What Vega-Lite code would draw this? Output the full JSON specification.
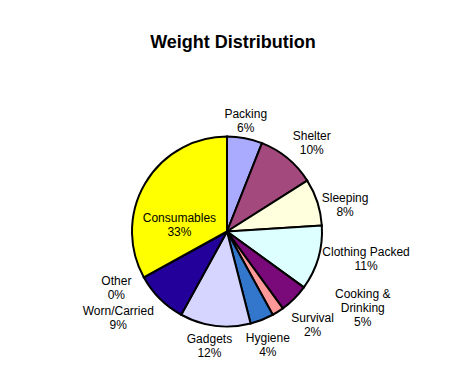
{
  "$schema": "https://vega.github.io/schema/vega-lite/v6.json",
  "autosize": "none",
  "width": 300,
  "height": 299,
  "padding": {"left": 77, "top": 82, "right": 83, "bottom": 0},
  "background": "white",
  "title": {"text": "Weight Distribution", "font": "Liberation Sans", "fontSize": 18, "fontWeight": "bold", "color": "black", "dx": 6, "offset": 30},
  "data": {"values": [
    {"ord": 1, "item": "Packing", "label": "Packing", "pct": 6},
    {"ord": 2, "item": "Shelter", "label": "Shelter", "pct": 10},
    {"ord": 3, "item": "Sleeping", "label": "Sleeping", "pct": 8},
    {"ord": 4, "item": "Clothing Packed", "label": "Clothing Packed", "pct": 11},
    {"ord": 5, "item": "Cooking & Drinking", "label": "Cooking &\nDrinking", "pct": 5},
    {"ord": 6, "item": "Survival", "label": "Survival", "pct": 2},
    {"ord": 7, "item": "Hygiene", "label": "Hygiene", "pct": 4},
    {"ord": 8, "item": "Gadgets", "label": "Gadgets", "pct": 12},
    {"ord": 9, "item": "Worn/Carried", "label": "Worn/Carried", "pct": 9},
    {"ord": 10, "item": "Other", "label": "Other", "pct": 0},
    {"ord": 11, "item": "Consumables", "label": "Consumables", "pct": 33}
  ]},
  "transform": [
    {"stack": "pct", "groupby": [], "sort": [{"field": "ord", "order": "ascending"}], "as": ["s0", "s1"]},
    {"calculate": "(datum.s0 + datum.s1) / 2", "as": "mid"},
    {"calculate": "datum.label + '\\n' + datum.pct + '%'", "as": "txt"}
  ],
  "encoding": {
    "theta": {"field": "mid", "type": "quantitative", "scale": {"domain": [0, 100]}},
    "text": {"field": "txt", "type": "nominal"}
  },
  "layer": [
    {
      "mark": {"type": "arc", "outerRadius": 95, "stroke": "black", "strokeWidth": 2},
      "encoding": {
        "theta": {"field": "s0", "type": "quantitative", "scale": {"domain": [0, 100]}},
        "theta2": {"field": "s1"},
        "text": null,
        "color": {"field": "item", "type": "nominal", "legend": null,
          "scale": {"domain": ["Packing", "Shelter", "Sleeping", "Clothing Packed", "Cooking & Drinking", "Survival", "Hygiene", "Gadgets", "Worn/Carried", "Other", "Consumables"],
                    "range": ["#AAAAFF", "#A4497D", "#FFFFDD", "#DDFFFF", "#7A0A7A", "#FF9999", "#3377CC", "#D5D5FF", "#220099", "#FFFFFF", "#FFFF00"]}}
      }
    },
    {
      "transform": [{"filter": "datum.item === 'Packing'"}],
      "mark": {"type": "text", "font": "Liberation Sans", "fontSize": 12, "fill": "black", "lineBreak": "\n", "align": "center", "baseline": "middle", "lineHeight": 14, "radius": 100, "dx": 0, "dy": -19}
    },
    {
      "transform": [{"filter": "datum.item === 'Shelter'"}],
      "mark": {"type": "text", "font": "Liberation Sans", "fontSize": 12, "fill": "black", "lineBreak": "\n", "align": "center", "baseline": "middle", "lineHeight": 14, "radius": 100, "dx": 21, "dy": -18}
    },
    {
      "transform": [{"filter": "datum.item === 'Sleeping'"}],
      "mark": {"type": "text", "font": "Liberation Sans", "fontSize": 12, "fill": "black", "lineBreak": "\n", "align": "center", "baseline": "middle", "lineHeight": 14, "radius": 100, "dx": 23, "dy": -3}
    },
    {
      "transform": [{"filter": "datum.item === 'Clothing Packed'"}],
      "mark": {"type": "text", "font": "Liberation Sans", "fontSize": 12, "fill": "black", "lineBreak": "\n", "align": "center", "baseline": "middle", "lineHeight": 14, "radius": 100, "dx": 43, "dy": -7}
    },
    {
      "transform": [{"filter": "datum.item === 'Cooking & Drinking'"}],
      "mark": {"type": "text", "font": "Liberation Sans", "fontSize": 12, "fill": "black", "lineBreak": "\n", "align": "center", "baseline": "middle", "lineHeight": 14, "radius": 100, "dx": 65, "dy": -8}
    },
    {
      "transform": [{"filter": "datum.item === 'Survival'"}],
      "mark": {"type": "text", "font": "Liberation Sans", "fontSize": 12, "fill": "black", "lineBreak": "\n", "align": "center", "baseline": "middle", "lineHeight": 14, "radius": 100, "dx": 32, "dy": 2}
    },
    {
      "transform": [{"filter": "datum.item === 'Hygiene'"}],
      "mark": {"type": "text", "font": "Liberation Sans", "fontSize": 12, "fill": "black", "lineBreak": "\n", "align": "center", "baseline": "middle", "lineHeight": 14, "radius": 100, "dx": 4, "dy": 14}
    },
    {
      "transform": [{"filter": "datum.item === 'Gadgets'"}],
      "mark": {"type": "text", "font": "Liberation Sans", "fontSize": 12, "fill": "black", "lineBreak": "\n", "align": "center", "baseline": "middle", "lineHeight": 14, "radius": 100, "dx": -5, "dy": 8}
    },
    {
      "transform": [{"filter": "datum.item === 'Worn/Carried'"}],
      "mark": {"type": "text", "font": "Liberation Sans", "fontSize": 12, "fill": "black", "lineBreak": "\n", "align": "center", "baseline": "middle", "lineHeight": 14, "radius": 100, "dx": -38, "dy": 9}
    },
    {
      "transform": [{"filter": "datum.item === 'Other'"}],
      "mark": {"type": "text", "font": "Liberation Sans", "fontSize": 12, "fill": "black", "lineBreak": "\n", "align": "center", "baseline": "middle", "lineHeight": 14, "radius": 100, "dx": -23, "dy": 1}
    },
    {
      "transform": [{"filter": "datum.item === 'Consumables'"}],
      "mark": {"type": "text", "font": "Liberation Sans", "fontSize": 12, "fill": "black", "lineBreak": "\n", "align": "center", "baseline": "middle", "lineHeight": 14, "radius": 46, "dx": -8, "dy": 10}
    }
  ]
}
